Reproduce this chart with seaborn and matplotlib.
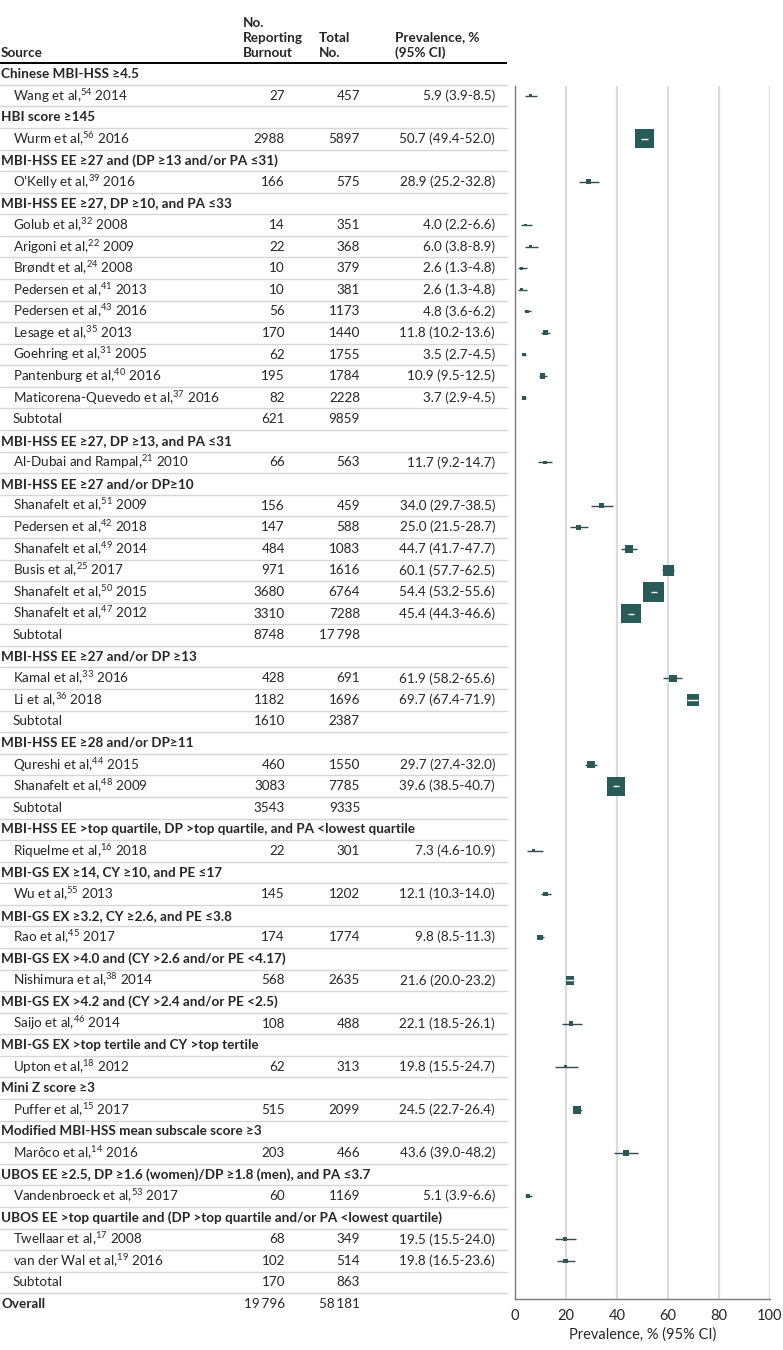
import numpy as np
import pandas as pd
import seaborn as sns
import matplotlib.pyplot as plt

# Rows of the forest table, top to bottom
row_labels = [
    "Chinese MBI-HSS ≥4.5",
    "Wang et al,$^{54}$ 2014",
    "HBI score ≥145",
    "Wurm et al,$^{56}$ 2016",
    "MBI-HSS EE ≥27 and (DP ≥13 and/or PA ≤31)",
    "O’Kelly et al,$^{39}$ 2016",
    "MBI-HSS EE ≥27, DP ≥10, and PA ≤33",
    "Golub et al,$^{32}$ 2008",
    "Arigoni et al,$^{22}$ 2009",
    "Brøndt et al,$^{24}$ 2008",
    "Pedersen et al,$^{41}$ 2013",
    "Pedersen et al,$^{43}$ 2016",
    "Lesage et al,$^{35}$ 2013",
    "Goehring et al,$^{31}$ 2005",
    "Pantenburg et al,$^{40}$ 2016",
    "Maticorena-Quevedo et al,$^{37}$ 2016",
    "Subtotal",
    "MBI-HSS EE ≥27, DP ≥13, and PA ≤31",
    "Al-Dubai and Rampal,$^{21}$ 2010",
    "MBI-HSS EE ≥27 and/or DP≥10",
    "Shanafelt et al,$^{51}$ 2009",
    "Pedersen et al,$^{42}$ 2018",
    "Shanafelt et al,$^{49}$ 2014",
    "Busis et al,$^{25}$ 2017",
    "Shanafelt et al,$^{50}$ 2015",
    "Shanafelt et al,$^{47}$ 2012",
    "Subtotal",
    "MBI-HSS EE ≥27 and/or DP ≥13",
    "Kamal et al,$^{33}$ 2016",
    "Li et al,$^{36}$ 2018",
    "Subtotal",
    "MBI-HSS EE ≥28 and/or DP≥11",
    "Qureshi et al,$^{44}$ 2015",
    "Shanafelt et al,$^{48}$ 2009",
    "Subtotal",
    "MBI-HSS EE >top quartile, DP >top quartile, and PA <lowest quartile",
    "Riquelme et al,$^{16}$ 2018",
    "MBI-GS EX ≥14, CY ≥10, and PE ≤17",
    "Wu et al,$^{55}$ 2013",
    "MBI-GS EX ≥3.2, CY ≥2.6, and PE ≤3.8",
    "Rao et al,$^{45}$ 2017",
    "MBI-GS EX >4.0 and (CY >2.6 and/or PE <4.17)",
    "Nishimura et al,$^{38}$ 2014",
    "MBI-GS EX >4.2 and (CY >2.4 and/or PE <2.5)",
    "Saijo et al,$^{46}$ 2014",
    "MBI-GS EX >top tertile and CY >top tertile",
    "Upton et al,$^{18}$ 2012",
    "Mini Z score ≥3",
    "Puffer et al,$^{15}$ 2017",
    "Modified MBI-HSS mean subscale score ≥3",
    "Marôco et al,$^{14}$ 2016",
    "UBOS EE ≥2.5, DP ≥1.6 (women)/DP ≥1.8 (men), and PA ≤3.7",
    "Vandenbroeck et al,$^{53}$ 2017",
    "UBOS EE >top quartile and (DP >top quartile and/or PA <lowest quartile)",
    "Twellaar et al,$^{17}$ 2008",
    "van der Wal et al,$^{19}$ 2016",
    "Subtotal",
    "Overall",
]
row_kinds = (
    ["group", "study"] * 3
    + ["group"] + ["study"] * 9 + ["subtotal"]
    + ["group", "study"]
    + ["group"] + ["study"] * 6 + ["subtotal"]
    + ["group"] + ["study"] * 2 + ["subtotal"]
    + ["group"] + ["study"] * 2 + ["subtotal"]
    + ["group", "study"] * 9
    + ["group"] + ["study"] * 2 + ["subtotal"]
    + ["overall"]
)
n_burnout = [
    None, 27, None, 2988, None, 166,
    None, 14, 22, 10, 10, 56, 170, 62, 195, 82, 621,
    None, 66,
    None, 156, 147, 484, 971, 3680, 3310, 8748,
    None, 428, 1182, 1610,
    None, 460, 3083, 3543,
    None, 22, None, 145, None, 174, None, 568, None, 108, None, 62,
    None, 515, None, 203, None, 60,
    None, 68, 102, 170,
    19796,
]
n_total = [
    None, 457, None, 5897, None, 575,
    None, 351, 368, 379, 381, 1173, 1440, 1755, 1784, 2228, 9859,
    None, 563,
    None, 459, 588, 1083, 1616, 6764, 7288, 17798,
    None, 691, 1696, 2387,
    None, 1550, 7785, 9335,
    None, 301, None, 1202, None, 1774, None, 2635, None, 488, None, 313,
    None, 2099, None, 466, None, 1169,
    None, 349, 514, 863,
    58181,
]
prevalence = [
    None, 5.9, None, 50.7, None, 28.9,
    None, 4.0, 6.0, 2.6, 2.6, 4.8, 11.8, 3.5, 10.9, 3.7, None,
    None, 11.7,
    None, 34.0, 25.0, 44.7, 60.1, 54.4, 45.4, None,
    None, 61.9, 69.7, None,
    None, 29.7, 39.6, None,
    None, 7.3, None, 12.1, None, 9.8, None, 21.6, None, 22.1, None, 19.8,
    None, 24.5, None, 43.6, None, 5.1,
    None, 19.5, 19.8, None,
    None,
]
ci_low = [
    None, 3.9, None, 49.4, None, 25.2,
    None, 2.2, 3.8, 1.3, 1.3, 3.6, 10.2, 2.7, 9.5, 2.9, None,
    None, 9.2,
    None, 29.7, 21.5, 41.7, 57.7, 53.2, 44.3, None,
    None, 58.2, 67.4, None,
    None, 27.4, 38.5, None,
    None, 4.6, None, 10.3, None, 8.5, None, 20.0, None, 18.5, None, 15.5,
    None, 22.7, None, 39.0, None, 3.9,
    None, 15.5, 16.5, None,
    None,
]
ci_high = [
    None, 8.5, None, 52.0, None, 32.8,
    None, 6.6, 8.9, 4.8, 4.8, 6.2, 13.6, 4.5, 12.5, 4.5, None,
    None, 14.7,
    None, 38.5, 28.7, 47.7, 62.5, 55.6, 46.6, None,
    None, 65.6, 71.9, None,
    None, 32.0, 40.7, None,
    None, 10.9, None, 14.0, None, 11.3, None, 23.2, None, 26.1, None, 24.7,
    None, 26.4, None, 48.2, None, 6.6,
    None, 24.0, 23.6, None,
    None,
]
x_ticks = [0, 20, 40, 60, 80, 100]

TEAL = "#285a57"
CI_COLOR = "#3c4747"
ROW_TOP = 74.0
ROW_STEP = 21.58
MIN_MARKER = 3.0
MAX_MARKER = 220.0


def fmt_count(value):
    """Format counts with a thin-space thousands separator above 9999."""
    if value is None:
        return ""
    if value >= 10000:
        return f"{value:,}".replace(",", "\u2009")
    return str(value)


def fmt_prev(p, lo, hi):
    if p is None:
        return ""
    return f"{p:.1f} ({lo:.1f}-{hi:.1f})"


sns.set_style("white")
plt.rcParams["font.family"] = ["Lato", "DejaVu Sans"]
plt.rcParams["mathtext.fontset"] = "custom"
plt.rcParams["mathtext.rm"] = "Lato"
plt.rcParams["mathtext.it"] = "Lato:italic"
plt.rcParams["mathtext.bf"] = "Lato:bold"

fig = plt.figure(figsize = (7.83, 13.5), dpi = 100)

# Table drawn in pixel coordinates
ax_t = fig.add_axes([0, 0, 1, 1])
ax_t.set_xlim(0, 783)
ax_t.set_ylim(1350, 0)
ax_t.axis("off")

font_size = 9.7
header_y = 59
ax_t.text(1, header_y, "Source", ha = "left", va = "bottom", fontsize = font_size, fontweight = "bold")
ax_t.text(243, header_y, "No.\nReporting\nBurnout", ha = "left", va = "bottom",
          fontsize = font_size, fontweight = "bold", linespacing = 1.3)
ax_t.text(319, header_y, "Total\nNo.", ha = "left", va = "bottom",
          fontsize = font_size, fontweight = "bold", linespacing = 1.3)
ax_t.text(395, header_y, "Prevalence, %\n(95% CI)", ha = "left", va = "bottom",
          fontsize = font_size, fontweight = "bold", linespacing = 1.3)
ax_t.plot([0, 507], [63, 63], color = "black", lw = 1.4, solid_capstyle = "butt")

for i, (label, kind) in enumerate(zip(row_labels, row_kinds)):
    y = ROW_TOP + ROW_STEP * i
    bold = kind in ("group", "overall")
    x = 1 if bold else 13
    ax_t.text(x, y, label, ha = "left", va = "center", fontsize = font_size,
              fontweight = "bold" if bold else "normal")
    ax_t.text(285, y, fmt_count(n_burnout[i]), ha = "right", va = "center", fontsize = font_size)
    ax_t.text(360, y, fmt_count(n_total[i]), ha = "right", va = "center", fontsize = font_size)
    ax_t.text(495, y, fmt_prev(prevalence[i], ci_low[i], ci_high[i]), ha = "right",
              va = "center", fontsize = font_size)
    if i < len(row_labels) - 1:
        y_sep = y + ROW_STEP / 2
        ax_t.plot([0, 507], [y_sep, y_sep], color = "#d6d6d6", lw = 1.0)

# Forest plot
ax_left, ax_right = 515, 770
ax_top, ax_bottom = 86, 1299
ax = fig.add_axes([ax_left / 783, (1350 - ax_bottom) / 1350,
                   (ax_right - ax_left) / 783, (ax_bottom - ax_top) / 1350])
ax.set_xlim(0, 100)
ax.set_ylim((ax_bottom - ROW_TOP) / ROW_STEP, (ax_top - ROW_TOP) / ROW_STEP)

frame = pd.DataFrame({
    "row": np.arange(len(row_labels)),
    "burnout": [np.nan if v is None else v for v in n_burnout],
    "prev": [np.nan if v is None else v for v in prevalence],
    "lo": [np.nan if v is None else v for v in ci_low],
    "hi": [np.nan if v is None else v for v in ci_high],
    "kind": row_kinds,
})
studies = frame[frame["kind"] == "study"].copy()
max_burnout = studies["burnout"].max()

# square area grows with number reporting burnout
studies["s"] = MIN_MARKER + (MAX_MARKER - MIN_MARKER) * studies["burnout"] / max_burnout
px_per_unit = (ax_right - ax_left) / 100
studies["half"] = np.sqrt(studies["s"]) / 72 * 100 / 2 / px_per_unit
inside = (studies["lo"] >= studies["prev"] - studies["half"]) & (studies["hi"] <= studies["prev"] + studies["half"])

outer = studies[~inside]
inner = studies[inside]
ax.hlines(outer["row"], outer["lo"], outer["hi"], color = CI_COLOR, lw = 1.0, zorder = 2)
sns.scatterplot(data = studies, x = "prev", y = "row", size = "burnout",
                sizes = (MIN_MARKER, MAX_MARKER), size_norm = (0, max_burnout), marker = "s",
                color = TEAL, linewidth = 0, legend = False, ax = ax, zorder = 3)
ax.hlines(inner["row"], inner["lo"], inner["hi"], color = "white", lw = 1.0, zorder = 4)

ax.set_xticks(x_ticks)
ax.set_yticks([])
ax.grid(axis = "x", color = "#dcdcdc", lw = 1.6)
ax.grid(axis = "y", visible = False)
ax.set_axisbelow(True)
for side in ("top", "right"):
    ax.spines[side].set_visible(False)
for side in ("left", "bottom"):
    ax.spines[side].set_color("#7a7a7a")
    ax.spines[side].set_linewidth(1.0)
ax.tick_params(axis = "x", direction = "out", length = 4, width = 1, color = "#7a7a7a",
               labelsize = 10.5, pad = 3)
ax.set_xlabel("Prevalence, % (95% CI)", fontsize = 10.5, labelpad = 3)
ax.set_ylabel("")

fig.savefig("out.png", dpi = 100)
